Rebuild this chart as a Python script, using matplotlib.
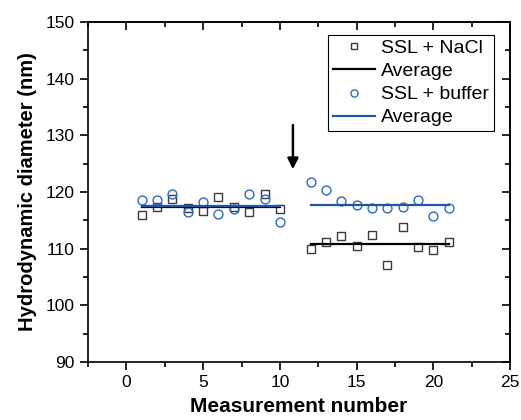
import matplotlib
matplotlib.use("Agg")
import matplotlib.pyplot as plt
from matplotlib.ticker import MultipleLocator

plt.rcParams['font.family'] = ['Liberation Sans', 'DejaVu Sans']

# Data
x_before = [1, 2, 3, 4, 5, 6, 7, 8, 9, 10]
x_after = [12, 13, 14, 15, 16, 17, 18, 19, 20, 21]
nacl_before = [115.9, 117.3, 118.7, 117.2, 116.7, 119.1, 117.4, 116.5, 119.6, 117.0]
nacl_after = [110.0, 111.1, 112.3, 110.5, 112.4, 107.1, 113.9, 110.3, 109.8, 111.1]
buffer_before = [118.6, 118.6, 119.6, 116.5, 118.3, 116.1, 117.0, 119.6, 118.7, 114.7]
buffer_after = [121.7, 120.3, 118.4, 117.7, 117.1, 117.1, 117.3, 118.5, 115.8, 117.1]
nacl_avg_before = 117.4
nacl_avg_after = 110.9
buffer_avg_before = 117.6
buffer_avg_after = 117.7
arrow_x = 10.85
arrow_top = 131.8
arrow_tip = 124.0

sq_color = '#3a3a3a'
circ_color = '#2f68c0'
blue_line = '#1f56a8'

fig = plt.figure(figsize=(5.21, 4.2), dpi=100)
ax = fig.add_axes([0.169, 0.138, 0.810, 0.810])

ax.plot(x_before + x_after, nacl_before + nacl_after, linestyle='none', marker='s',
        markersize=5.4, markerfacecolor='none', markeredgecolor=sq_color,
        markeredgewidth=1.0, label='SSL + NaCl', zorder=3)
ax.plot([x_before[0], x_before[-1]], [nacl_avg_before] * 2, color='black', lw=1.6,
        label='Average', zorder=4)
ax.plot([x_after[0], x_after[-1]], [nacl_avg_after] * 2, color='black', lw=1.6, zorder=4)
ax.plot(x_before + x_after, buffer_before + buffer_after, linestyle='none', marker='o',
        markersize=6.4, markerfacecolor='none', markeredgecolor=circ_color,
        markeredgewidth=1.0, label='SSL + buffer', zorder=3)
ax.plot([x_before[0], x_before[-1]], [buffer_avg_before] * 2, color=blue_line, lw=1.6,
        label='Average', zorder=4)
ax.plot([x_after[0], x_after[-1]], [buffer_avg_after] * 2, color=blue_line, lw=1.6, zorder=4)

ax.annotate('', xy=(arrow_x, arrow_tip), xytext=(arrow_x, arrow_top),
            arrowprops=dict(arrowstyle='-|>', color='black', lw=1.8,
                            mutation_scale=16, shrinkA=0, shrinkB=0))

ax.set_xlim(-2.5, 25)
ax.set_ylim(90, 150)
ax.xaxis.set_major_locator(MultipleLocator(5))
ax.xaxis.set_minor_locator(MultipleLocator(2.5))
ax.yaxis.set_major_locator(MultipleLocator(10))
ax.yaxis.set_minor_locator(MultipleLocator(5))
ax.tick_params(which='both', direction='out', width=1.2, labelsize=12.5)
ax.tick_params(which='major', length=6)
ax.tick_params(which='minor', length=3.5)
for s in ax.spines.values():
    s.set_linewidth(1.2)

# mirrored ticks on top and right, pointing inward
top = ax.secondary_xaxis('top')
top.xaxis.set_major_locator(MultipleLocator(5))
top.xaxis.set_minor_locator(MultipleLocator(2.5))
top.tick_params(which='both', direction='in', width=1.2, labeltop=False)
top.tick_params(which='major', length=6)
top.tick_params(which='minor', length=3.5)
top.spines['top'].set_linewidth(1.2)
right = ax.secondary_yaxis('right')
right.yaxis.set_major_locator(MultipleLocator(10))
right.yaxis.set_minor_locator(MultipleLocator(5))
right.tick_params(which='both', direction='in', width=1.2, labelright=False)
right.tick_params(which='major', length=6)
right.tick_params(which='minor', length=3.5)
right.spines['right'].set_linewidth(1.2)

ax.set_xlabel('Measurement number', fontsize=15, fontweight='bold', labelpad=5)
ax.set_ylabel('Hydrodynamic diameter (nm)', fontsize=14.5, fontweight='bold', labelpad=6)

leg = ax.legend(loc='upper right', bbox_to_anchor=(0.962, 0.962), fontsize=14,
                frameon=True, fancybox=False, edgecolor='black', framealpha=1,
                handlelength=2.2, handletextpad=0.3, borderpad=0.25,
                labelspacing=0.28, borderaxespad=0, markerscale=0.8)
leg.get_frame().set_linewidth(0.8)

fig.savefig('out.png', dpi=100)
